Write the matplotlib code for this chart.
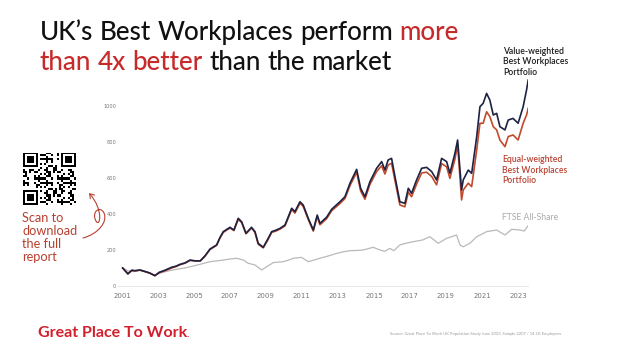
import matplotlib
matplotlib.use("Agg")
import matplotlib.pyplot as plt
import numpy as np
from matplotlib.path import Path
from matplotlib.patches import FancyArrowPatch

# ---------------- data ----------------
port_years = [2001.04, 2001.33, 2001.55, 2001.72, 2002.0, 2002.3, 2002.55, 2002.83, 2003.07,
              2003.4, 2003.76, 2004.0, 2004.22, 2004.5, 2004.78, 2005.05, 2005.35, 2005.61,
              2005.89, 2006.26, 2006.45, 2006.63, 2007.0, 2007.22, 2007.46, 2007.65, 2007.89,
              2008.2, 2008.39, 2008.57, 2008.85, 2009.1, 2009.32, 2009.55, 2009.78, 2010.06,
              2010.43, 2010.61, 2010.89, 2011.07, 2011.35, 2011.63, 2011.85, 2012.0, 2012.37,
              2012.65, 2013.11, 2013.39, 2013.67, 2014.04, 2014.26, 2014.5, 2014.78, 2015.15,
              2015.43, 2015.61, 2015.79, 2015.98, 2016.17, 2016.44, 2016.72, 2016.91, 2017.09,
              2017.37, 2017.65, 2017.93, 2018.21, 2018.48, 2018.76, 2019.04, 2019.22, 2019.5,
              2019.65, 2019.87, 2019.96, 2020.24, 2020.43, 2020.71, 2020.89, 2021.07, 2021.26,
              2021.44, 2021.63, 2021.82, 2022.0, 2022.28, 2022.46, 2022.73, 2023.01, 2023.29,
              2023.48, 2023.57]
value_weighted = [100, 67, 88, 85, 89, 80, 72, 57, 76,
                  88, 104, 110, 120, 128, 144, 140, 139, 167,
                  205, 228, 270, 302, 326, 311, 376, 357, 293,
                  326, 302, 237, 215, 260, 302, 310, 320, 339,
                  432, 413, 468, 450, 376, 311, 394, 348, 382,
                  426, 468, 496, 571, 648, 543, 496, 580, 654,
                  691, 644, 700, 709, 607, 468, 459, 543, 515,
                  589, 654, 659, 635, 589, 709, 691, 626, 737,
                  811, 533, 589, 644, 626, 830, 996, 1015, 1070,
                  1033, 950, 959, 885, 867, 922, 931, 904, 996,
                  1089, 1144]
equal_weighted = [100, 68, 86, 84, 88, 79, 71, 58, 74,
                  85, 100, 108, 118, 127, 142, 139, 140, 165,
                  203, 226, 268, 298, 322, 308, 370, 352, 290,
                  322, 298, 232, 212, 255, 298, 305, 316, 334,
                  425, 405, 460, 442, 370, 305, 386, 340, 374,
                  418, 458, 486, 558, 632, 528, 482, 565, 636,
                  668, 622, 672, 682, 585, 450, 440, 522, 496,
                  566, 628, 632, 608, 562, 680, 662, 598, 705,
                  783, 478, 533, 571, 552, 756, 904, 904, 968,
                  941, 885, 867, 811, 774, 830, 839, 811, 904,
                  950, 987]

ftse_years = [2001.04, 2001.33, 2001.7, 2002.0, 2002.4, 2002.83, 2003.07, 2003.5, 2004.04,
              2004.5, 2004.96, 2005.4, 2005.89, 2006.3, 2006.63, 2007.0, 2007.37, 2007.74,
              2008.02, 2008.39, 2008.76, 2009.04, 2009.41, 2009.96, 2010.3, 2010.52, 2010.98,
              2011.35, 2011.7, 2012.0, 2012.5, 2012.93, 2013.3, 2013.67, 2014.0, 2014.4,
              2014.96, 2015.33, 2015.6, 2015.89, 2016.1, 2016.44, 2016.8, 2017.18, 2017.72,
              2018.11, 2018.57, 2019.04, 2019.59, 2019.78, 2019.96, 2020.33, 2020.71, 2021.0,
              2021.26, 2021.82, 2022.28, 2022.65, 2023.11, 2023.35, 2023.57]
ftse_all_share = [100, 84, 80, 88, 78, 60, 70, 82, 93,
                  100, 111, 122, 135, 140, 144, 150, 154, 144,
                  126, 117, 89, 107, 130, 135, 145, 154, 159,
                  135, 145, 154, 168, 181, 190, 196, 197, 200,
                  215, 200, 193, 209, 196, 228, 238, 246, 256,
                  274, 237, 265, 283, 228, 218, 237, 274, 288,
                  302, 311, 283, 315, 311, 305, 335]

x_ticks = [2001, 2003, 2005, 2007, 2009, 2011, 2013, 2015, 2017, 2019, 2021, 2023]
y_ticks = [0, 200, 400, 600, 800, 1000]

# ---------------- figure ----------------
W, H = 629, 353
fig = plt.figure(figsize=(W / 100, H / 100), dpi=100)
fig.patch.set_facecolor("white")

def fx(px):
    return px / W

def fy(py):
    return 1 - py / H

NAVY = "#1d2242"
ORANGE = "#c24a2c"
RED = "#c62a2a"
LABRED = "#b8402f"
GREY = "#b9b9b9"

ax = fig.add_axes([fx(118), fy(286), (528 - 118) / W, (286 - 77) / H])
ax.plot(ftse_years, ftse_all_share, color=GREY, lw=0.9, solid_joinstyle="round")
ax.plot(port_years, equal_weighted, color=ORANGE, lw=1.2, solid_joinstyle="round")
ax.plot(port_years, value_weighted, color=NAVY, lw=1.2, solid_joinstyle="round")
ax.set_xlim(2000.78, 2023.56)
ax.set_ylim(0, 1161)
ax.set_xticks(x_ticks)
ax.set_xticklabels([str(v) for v in x_ticks])
ax.set_yticks(y_ticks)
ax.set_yticklabels([str(v) for v in y_ticks])
ax.tick_params(axis="both", length=0, colors="#777777")
ax.tick_params(axis="x", labelsize=5, pad=5)
ax.tick_params(axis="y", labelsize=3.6, pad=1.5)
for s in ["top", "right", "left"]:
    ax.spines[s].set_visible(False)
ax.spines["bottom"].set_color("#e2e2e2")
ax.spines["bottom"].set_linewidth(0.6)
ax.set_facecolor("none")
ax.patch.set_alpha(0)

# series labels
LFONT = ["Lato", "DejaVu Sans"]
fig.text(fx(503), fy(47), "Value-weighted\nBest Workplaces\nPortfolio", fontsize=6.2,
         color="#1a1a1a", family=LFONT, va="top", ha="left", linespacing=1.2,
         fontweight="semibold")
fig.text(fx(502.5), fy(155.5), "Equal-weighted\nBest Workplaces\nPortfolio", fontsize=6.2,
         color=LABRED, family=LFONT, va="top", ha="left", linespacing=1.2,
         fontweight="semibold")
fig.text(fx(502), fy(213), "FTSE All-Share", fontsize=6.2, color="#ababab",
         family=LFONT, va="top", ha="left")

# ---------------- title ----------------
renderer = fig.canvas.get_renderer()
TFONT = ["Lato", "DejaVu Sans"]
TSIZE = 18.7

def width_of(s, size, weight="normal"):
    t = fig.text(0, 0, s, fontsize=size, family=TFONT, fontweight=weight)
    w = t.get_window_extent(renderer).width
    t.remove()
    return w

space_w = width_of("n n", TSIZE, "medium") - width_of("nn", TSIZE, "medium")

def place(pieces, x0, ybase):
    x = x0
    for i, (s, c) in enumerate(pieces):
        words = s.split(" ")
        for j, wd in enumerate(words):
            if wd:
                t = fig.text(fx(x), fy(ybase), wd, color=c, fontsize=TSIZE, family=TFONT,
                             fontweight="medium", va="baseline", ha="left")
                x += t.get_window_extent(renderer).width
            if j < len(words) - 1:
                x += space_w

place([("UK\u2019s Best Workplaces perform ", "#111111"), ("more", RED)], 39.5, 40)
place([("than 4x better", RED), (" than the market", "#111111")], 39.5, 70)

# ---------------- QR code (decorative) ----------------
n = 25
ii, jj = np.meshgrid(np.arange(n), np.arange(n), indexing="ij")
qr = (((ii * ii * 31 + jj * 17 + ii * jj * 7 + jj * jj * 5) % 11) < 5).astype(float)
def finder(r, c):
    qr[r:r + 7, c:c + 7] = 1
    qr[r + 1:r + 6, c + 1:c + 6] = 0
    qr[r + 2:r + 5, c + 2:c + 5] = 1
for (r, c) in [(0, 0), (0, n - 7), (n - 7, 0)]:
    qr[max(r - 1, 0):r + 8, max(c - 1, 0):c + 8] = 0
    finder(r, c)
axq = fig.add_axes([fx(22.5), fy(205.5), 53 / W, 52.5 / H])
axq.imshow(qr, cmap="gray_r", interpolation="nearest", aspect="auto")
axq.axis("off")

# scan text
fig.text(fx(22.5), fy(212.5), "Scan to\ndownload\nthe full\nreport", fontsize=9.2,
         color="#b8402f", family=["Lato", "DejaVu Sans"], va="top", ha="left",
         linespacing=1.08, fontweight="normal")

# curly arrow
verts = [(fx(83), fy(238)), (fx(98), fy(234)), (fx(108), fy(222)), (fx(104), fy(213)),
         (fx(100), fy(205)), (fx(91), fy(212)), (fx(96), fy(221)),
         (fx(100), fy(228)), (fx(104), fy(210)), (fx(89), fy(193))]
codes = [Path.MOVETO, Path.CURVE4, Path.CURVE4, Path.CURVE4, Path.CURVE4, Path.CURVE4,
         Path.CURVE4, Path.CURVE4, Path.CURVE4, Path.CURVE4]
arrow = FancyArrowPatch(path=Path(verts, codes), arrowstyle="->,head_length=3,head_width=2",
                        color="#b8402f", lw=0.8, transform=fig.transFigure)
fig.patches.append(arrow)

# ---------------- footer ----------------
fig.text(fx(38), fy(337), "Great Place To Work", fontsize=11.5, color="#d11f2c",
         family=["Lato", "DejaVu Sans"], fontweight="bold", va="baseline", ha="left")
fig.text(fx(187), fy(337), ".", fontsize=7, color="#d11f2c",
         family=["Lato", "DejaVu Sans"], fontweight="bold", va="baseline", ha="left")
fig.text(fx(390), fy(335), "Source: Great Place To Work UK Population Study June 2023, Sample 2207 / 14.1K Employees",
         fontsize=3.0, color="#9a9a9a", family=["Lato", "DejaVu Sans"], va="baseline", ha="left")

fig.savefig("out.png", dpi=100, facecolor="white")
